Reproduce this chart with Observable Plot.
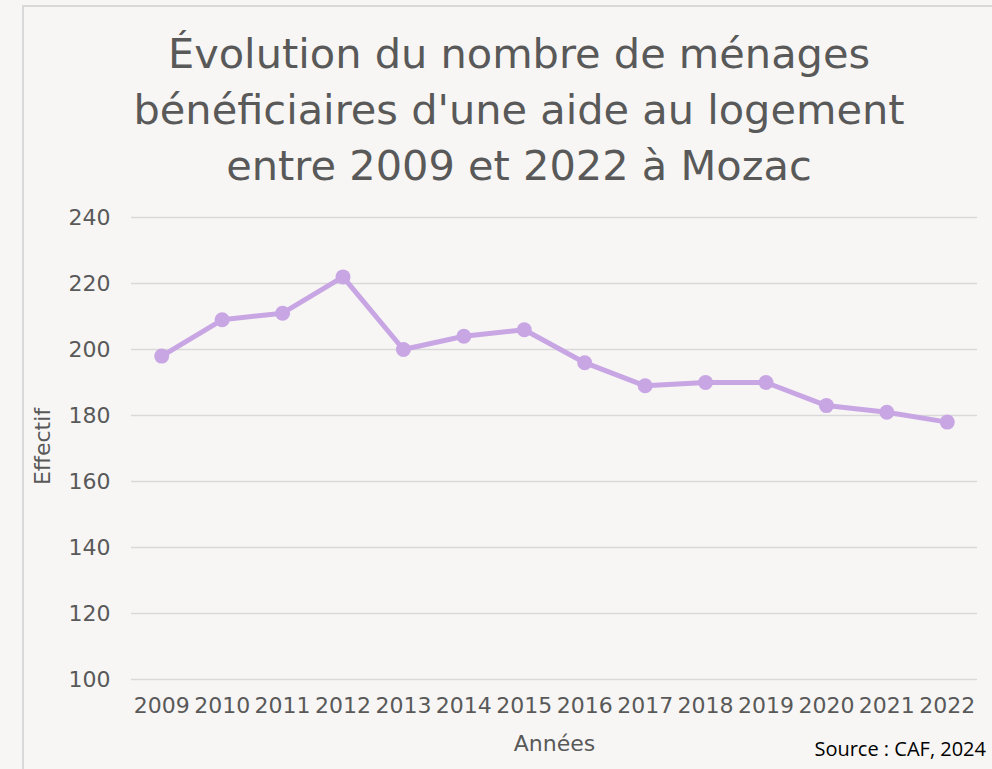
<!DOCTYPE html>
<html><head><meta charset="utf-8">
<script src="https://cdn.jsdelivr.net/npm/d3@7"></script>
<script src="https://cdn.jsdelivr.net/npm/@observablehq/plot@0.6"></script>
<style>
html,body{margin:0;padding:0;background:#f7f6f4;}
#wrap{position:relative;width:992px;height:769px;overflow:hidden;background:#f7f6f4;font-family:"DejaVu Sans",sans-serif;}
#frame{position:absolute;left:22px;top:5px;width:1000px;height:800px;border:2px solid #d9d9d9;box-sizing:border-box;}
#title{position:absolute;left:0;width:1038px;top:26px;text-align:center;font-size:41.5px;line-height:56px;color:#595959;}
#src{position:absolute;right:6px;top:735px;font-size:20px;color:#000;font-family:"Open Sans",sans-serif;}
#chart{position:absolute;left:0;top:0;}
</style></head>
<body><div id="wrap"><div id="frame"></div><div id="chart"></div>
<div id="title">Évolution du nombre de ménages<br>bénéficiaires d'une aide au logement<br>entre 2009 et 2022 à Mozac</div>
<div id="src">Source : CAF, 2024</div></div>
<script>
const years = ["2009","2010","2011","2012","2013","2014","2015","2016","2017","2018","2019","2020","2021","2022"];
const effectif = [198,209,211,222,200,204,206,196,189,190,190,183,181,178];
const yTicks = [100,120,140,160,180,200,220,240];
const data = years.map((y,i)=>({annee:y, n:effectif[i]}));
const color = "#c8a6e4";
const chart = Plot.plot({
  width: 992, height: 769,
  marginLeft: 131, marginRight: 15, marginTop: 217, marginBottom: 90,
  style: {background: "transparent", fontFamily: "'DejaVu Sans', sans-serif", fontSize: "22px", color: "#595959"},
  x: {type: "point", domain: years, padding: 0.5, round: false, label: null},
  y: {domain: [100, 240], label: null},
  marks: [
    Plot.ruleY(yTicks, {stroke: "#d9d9d9", strokeWidth: 1.5}),
    Plot.axisY({ticks: yTicks, tickSize: 0, tickPadding: 21, label: null, fill: "#595959", fontSize: 22}),
    Plot.axisX({tickSize: 0, tickPadding: 18, label: null, fill: "#595959", fontSize: 22}),
    Plot.line(data, {x: "annee", y: "n", stroke: color, strokeWidth: 5}),
    Plot.dot(data, {x: "annee", y: "n", fill: color, r: 7.5}),
    Plot.text(["Effectif"], {frameAnchor: "left", textAnchor: "middle", dx: -89, dy: -2, rotate: -90, fill: "#595959", fontSize: 22}),
    Plot.text(["Années"], {frameAnchor: "bottom", dy: 71, fill: "#595959", fontSize: 22})
  ]
});
document.getElementById("chart").appendChild(chart);
</script></body></html>
